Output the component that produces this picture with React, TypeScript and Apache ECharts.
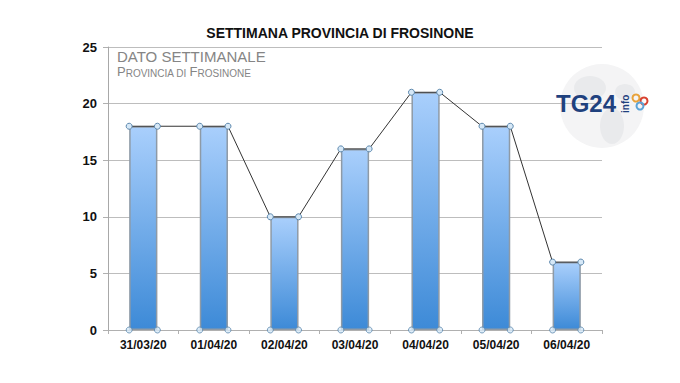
import React, { useEffect, useRef } from "react";
import * as echarts from "echarts";

const categories = ["31/03/20", "01/04/20", "02/04/20", "03/04/20", "04/04/20", "05/04/20", "06/04/20"];
const values = [18, 18, 10, 16, 21, 18, 6];
const yTicks = { min: 0, max: 25, interval: 5 };
const titleText = "SETTIMANA PROVINCIA DI FROSINONE";
const subtitle1 = "DATO SETTIMANALE";

const FONT = "'Liberation Sans', Arial, sans-serif";
const HALF = 0.2; // half of the bar width, in category units (bar width 40%)

export default function App() {
  const ref = useRef<HTMLDivElement>(null);
  useEffect(() => {
    if (!ref.current) return;
    const chart = echarts.init(ref.current, undefined, { renderer: "svg" });
    const topPts: number[][] = [];
    const bottomPts: number[][] = [];
    values.forEach((v, i) => {
      topPts.push([i - HALF, v], [i + HALF, v]);
      bottomPts.push([i - HALF, 0], [i + HALF, 0]);
    });
    const marker = {
      symbol: "circle",
      symbolSize: 6,
      itemStyle: { color: "#d6e8f7", borderColor: "#5b87ad", borderWidth: 1 },
    };
    const grey = "#858585";
    chart.setOption({
      animation: false,
      backgroundColor: "#ffffff",
      title: {
        text: titleText,
        left: "center",
        top: 21,
        textStyle: { fontFamily: FONT, fontSize: 14, fontWeight: "bold", color: "#111" },
      },
      grid: { left: 108, right: 78, top: 47, bottom: 53 },
      xAxis: [
        {
          type: "category",
          data: categories,
          axisLine: { show: true, lineStyle: { color: "#b0b0b0", width: 1 } },
          axisTick: { show: true, length: 4, lineStyle: { color: "#b0b0b0" } },
          axisLabel: { fontFamily: FONT, fontSize: 12, fontWeight: "bold", color: "#111", margin: 9 },
        },
        {
          type: "value",
          min: -0.5,
          max: categories.length - 0.5,
          show: false,
        },
      ],
      yAxis: {
        type: "value",
        min: yTicks.min,
        max: yTicks.max,
        interval: yTicks.interval,
        axisLine: { show: true, onZero: false, lineStyle: { color: "#a8a8a8", width: 1 } },
        axisTick: { show: true, length: 5, lineStyle: { color: "#b0b0b0" } },
        splitLine: { show: true, lineStyle: { color: "#bdbdbd", width: 1 } },
        axisLabel: { fontFamily: FONT, fontSize: 13, fontWeight: "bold", color: "#111", margin: 11 },
      },
      graphic: [
        {
          type: "group",
          z: 0,
          children: [
            { type: "circle", shape: { cx: 602, cy: 106, r: 42 }, style: { fill: "#f4f4f5" } },
            { type: "ellipse", shape: { cx: 590, cy: 88, rx: 16, ry: 12 }, style: { fill: "#e9eaec" } },
            { type: "ellipse", shape: { cx: 612, cy: 126, rx: 12, ry: 18 }, style: { fill: "#e9eaec" } },
            { type: "ellipse", shape: { cx: 625, cy: 92, rx: 10, ry: 8 }, style: { fill: "#e9eaec" } },
          ],
        },
        {
          type: "text",
          left: 556,
          top: 91,
          z: 10,
          style: { text: "TG24", font: `bold 24px ${FONT}`, fill: "#1f417e" },
        },
        {
          type: "group",
          x: 620,
          y: 113,
          rotation: Math.PI / 2,
          z: 10,
          children: [
            { type: "text", x: 0, y: 0, style: { text: "info", font: `bold 10px ${FONT}`, fill: "#1f417e" } },
          ],
        },
        { type: "circle", z: 10, shape: { cx: 636, cy: 98, r: 3.5 }, style: { fill: "none", stroke: "#e8a23a", lineWidth: 2 } },
        { type: "circle", z: 10, shape: { cx: 644, cy: 101, r: 3.5 }, style: { fill: "none", stroke: "#d8412f", lineWidth: 2 } },
        { type: "circle", z: 10, shape: { cx: 640, cy: 106, r: 3.5 }, style: { fill: "none", stroke: "#5aa3d8", lineWidth: 2 } },
        {
          type: "text",
          left: 117,
          top: 49,
          z: 10,
          style: { text: subtitle1, font: `15px ${FONT}`, fill: grey },
        },
        {
          type: "text",
          left: 117,
          top: 65,
          z: 10,
          style: {
            text: "{b|P}{s|ROVINCIA DI }{b|F}{s|ROSINONE}",
            rich: {
              b: { fontFamily: FONT, fontSize: 13, lineHeight: 15, verticalAlign: "bottom", fill: grey, color: grey },
              s: { fontFamily: FONT, fontSize: 10, lineHeight: 15, verticalAlign: "bottom", padding: [3, 0, 0, 0], fill: grey, color: grey },
            },
          },
        },
      ],
      series: [
        {
          type: "bar",
          xAxisIndex: 0,
          data: values,
          barWidth: "40%",
          z: 2,
          itemStyle: {
            color: new echarts.graphic.LinearGradient(0, 0, 0, 1, [
              { offset: 0, color: "#a9cffc" },
              { offset: 1, color: "#3d8ad7" },
            ]),
            borderColor: "#8e9aa6",
            borderWidth: 1.5,
          },
        },
        {
          type: "line",
          xAxisIndex: 1,
          data: topPts,
          z: 5,
          lineStyle: { color: "#333", width: 1 },
          ...marker,
        },
        {
          type: "scatter",
          xAxisIndex: 1,
          data: bottomPts,
          z: 5,
          ...marker,
        },
      ],
    });
    return () => chart.dispose();
  }, []);
  return (
    <div
      ref={ref}
      style={{ position: "fixed", left: 0, top: 0, width: 680, height: 383 }}
    />
  );
}
